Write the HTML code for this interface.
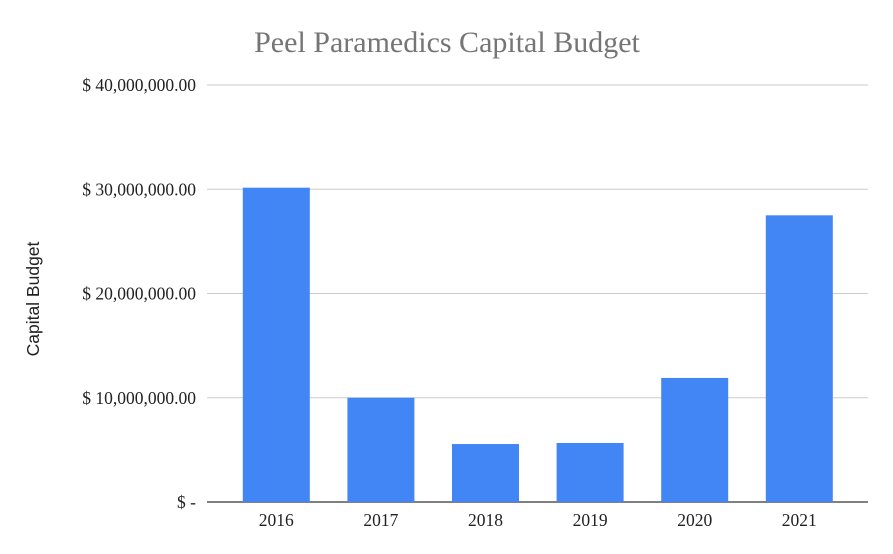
<!DOCTYPE html>
<html><head><meta charset="utf-8"><style>
html,body{margin:0;padding:0;background:#fff;}
svg{display:block;}
</style></head><body>
<svg id="chart" width="893" height="554">
<text x="447" y="52" text-anchor="middle" font-family="Liberation Serif, serif" font-size="30" fill="#757575">Peel Paramedics Capital Budget</text>
<text transform="translate(39,299) rotate(-90)" text-anchor="middle" font-family="Liberation Sans, sans-serif" font-size="17.5" fill="#222">Capital Budget</text>
<g id="grid"></g><g id="bars"></g><g id="labels"></g>
</svg>
<script>
const categories = ["2016","2017","2018","2019","2020","2021"];
const values = [30150000, 10000000, 5560000, 5660000, 11900000, 27500000];
const yTicks = [0, 10000000, 20000000, 30000000, 40000000];
const yTickLabels = ["$ -", "$ 10,000,000.00", "$ 20,000,000.00", "$ 30,000,000.00", "$ 40,000,000.00"];
const NS = "http://www.w3.org/2000/svg";
const y0 = 502, yTop = 85, maxV = 40000000;
const yScale = v => y0 - (v / maxV) * (y0 - yTop);
const bandStart = 224, band = 104.6, barW = 67;
const xCenter = i => bandStart + band * (i + 0.5);
const grid = document.getElementById('grid'), bars = document.getElementById('bars'), labels = document.getElementById('labels');
function mk(tag, attrs){const e=document.createElementNS(NS,tag);for(const k in attrs)e.setAttribute(k,attrs[k]);return e;}
yTicks.forEach((t,i)=>{
  const y = yScale(t);
  const l = mk('line',{x1:207,x2:868,y1:y,y2:y,stroke:i===0?'#000':'#ccc','stroke-width':1});
  
  
  grid.appendChild(l);
  const tx = mk('text',{x:196,y:y+6,'text-anchor':'end','font-family':'Liberation Serif, serif','font-size':17.5,fill:'#222'});
  tx.textContent = yTickLabels[i];
  
  
  labels.appendChild(tx);
});
categories.forEach((c,i)=>{
  const y = yScale(values[i]);
  const r = mk('rect',{x:xCenter(i)-barW/2,y:y,width:barW,height:y0-y,fill:'#4285f4'});
  
  
  bars.appendChild(r);
  const tx = mk('text',{x:xCenter(i),y:526,'text-anchor':'middle','font-family':'Liberation Serif, serif','font-size':17.5,fill:'#222'});
  tx.textContent = c;
  
  
  labels.appendChild(tx);
});
</script>
</body></html>
